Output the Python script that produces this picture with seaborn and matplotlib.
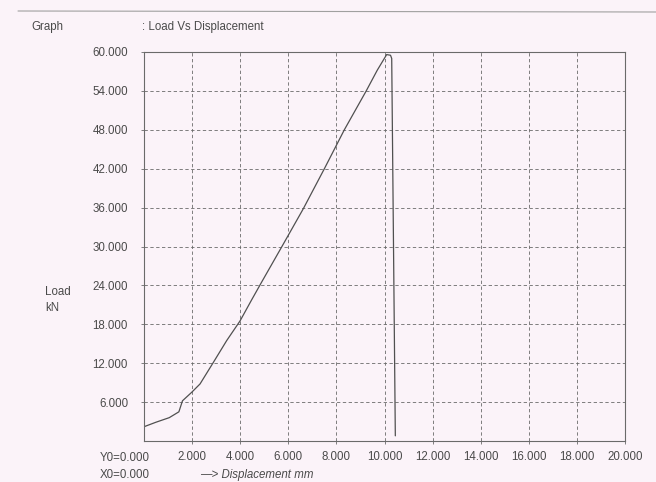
import matplotlib
matplotlib.use('Agg')
import matplotlib.pyplot as plt
import seaborn as sns
import pandas as pd
from matplotlib.lines import Line2D

# Data
displacement = [0.0, 0.5, 1.05, 1.45, 1.6, 1.98, 2.33, 2.88, 3.44, 3.99, 4.48,
                4.89, 5.72, 6.62, 7.5, 8.33, 9.24, 9.7, 10.09, 10.25, 10.3, 10.45]
load = [2.2, 2.9, 3.6, 4.5, 6.2, 7.5, 8.8, 12.1, 15.5, 18.5, 21.8,
        24.5, 29.9, 35.8, 42.0, 48.0, 54.0, 57.2, 59.6, 59.5, 59.0, 0.8]

x_ticks = [2, 4, 6, 8, 10, 12, 14, 16, 18, 20]
x_labels = ['2.000', '4.000', '6.000', '8.000', '10.000', '12.000', '14.000',
            '16.000', '18.000', '20.000']
y_ticks = [6, 12, 18, 24, 30, 36, 42, 48, 54, 60]
y_labels = ['6.000', '12.000', '18.000', '24.000', '30.000', '36.000',
            '42.000', '48.000', '54.000', '60.000']

sns.set_theme(style='white')
plt.rcParams['font.family'] = ['Liberation Sans Narrow', 'Liberation Sans', 'DejaVu Sans']

bg = '#fbf3f9'
txt = '#4a4a4a'
fig = plt.figure(figsize=(6.56, 4.82), dpi=100, facecolor=bg)
ax = fig.add_axes([144 / 656, 1 - 441 / 482, (625 - 144) / 656, (441 - 52) / 482])
ax.set_facecolor(bg)

df = pd.DataFrame({'Displacement': displacement, 'Load': load})
sns.lineplot(data=df, x='Displacement', y='Load', sort=False, estimator=None,
             color='#505050', lw=0.9, ax=ax)

ax.set_xlim(0, 20)
ax.set_ylim(0, 60)
ax.set_xticks(x_ticks)
ax.set_xticklabels(x_labels)
ax.set_yticks(y_ticks)
ax.set_yticklabels(y_labels)
ax.set_xlabel('')
ax.set_ylabel('')
ax.grid(True, linestyle=(0, (4, 3)), color='#6a6a6a', lw=0.6)
for s in ax.spines.values():
    s.set_color('#6a6a6a')
    s.set_linewidth(0.8)
fs = 8.3
ax.tick_params(axis='both', length=2.5, width=0.6, color='#6a6a6a',
               labelsize=fs, labelcolor=txt, direction='out')
ax.tick_params(axis='y', pad=9)
ax.tick_params(axis='x', pad=5)
ax.tick_params(left=True, bottom=True)

fig.text(31 / 656, 1 - 27 / 482, 'Graph', fontsize=fs, color=txt, va='center', ha='left')
fig.text(142 / 656, 1 - 27 / 482, ': Load Vs Displacement', fontsize=fs, color=txt,
         va='center', ha='left')
fig.text(45 / 656, 1 - 292 / 482, 'Load', fontsize=fs, color=txt, va='center', ha='left')
fig.text(45 / 656, 1 - 308 / 482, 'kN', fontsize=fs, color=txt, va='center', ha='left')
fig.text(100 / 656, 1 - 458 / 482, 'Y0=0.000', fontsize=fs, color=txt, va='center', ha='left')
fig.text(100 / 656, 1 - 475 / 482, 'X0=0.000', fontsize=fs, color=txt, va='center', ha='left')
fig.text(200 / 656, 1 - 475 / 482, '—> Displacement mm', fontsize=fs, color=txt,
         va='center', ha='left', style='italic')

fig.add_artist(Line2D([18 / 656, 1.0], [1 - 11 / 482, 1 - 12 / 482],
                      transform=fig.transFigure, color='#a0a0a0', lw=0.8))

fig.savefig('out.png', dpi=100, facecolor=bg)
